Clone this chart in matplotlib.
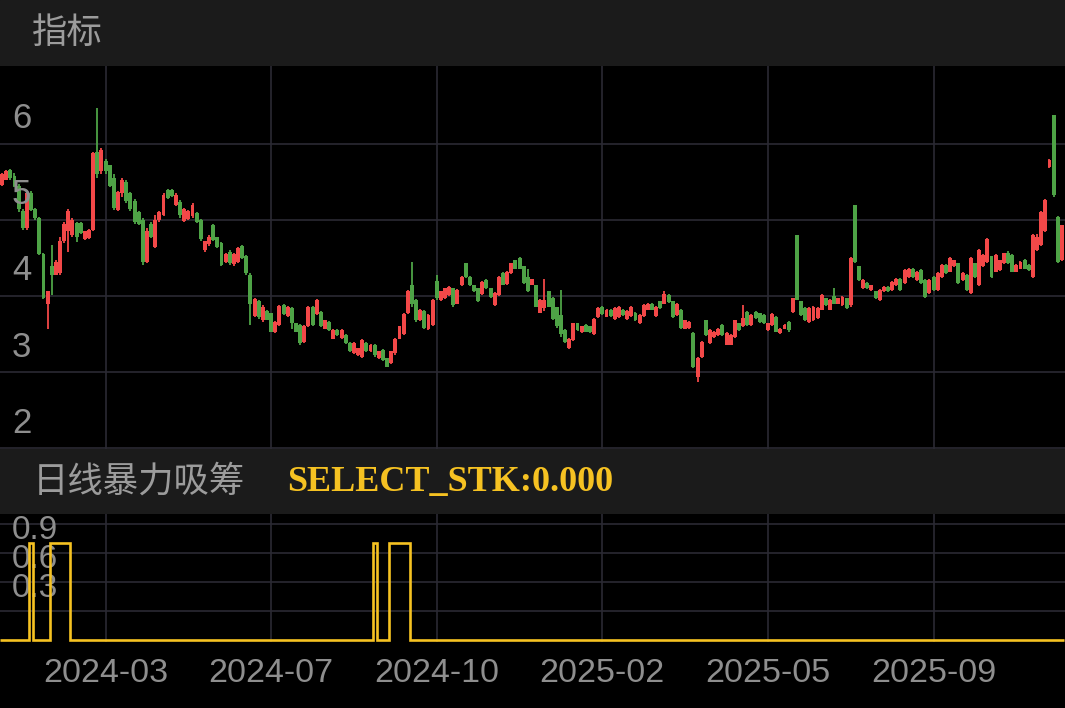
import matplotlib
matplotlib.use('Agg')
import matplotlib.pyplot as plt
from matplotlib.patches import Rectangle
import matplotlib.transforms as mtransforms
import numpy as np

# ---- data (prices in cents) ----
opens = [
    546, 553, 566, 558, 545, 512, 490, 536, 515, 502,
    455, 390, 440, 428, 430, 472, 485, 480, 496, 496,
    475, 476, 487, 590, 565, 578, 572, 555, 513, 535,
    550, 535, 525, 510, 500, 445, 495, 465, 500, 507,
    539, 540, 520, 524, 499, 501, 505, 509, 500, 460,
    468, 493, 477, 470, 445, 458, 442, 445, 466, 452,
    428, 374, 394, 368, 380, 377, 352, 362, 388, 374,
    384, 364, 362, 340, 360, 386, 376, 379, 357, 366,
    344, 355, 345, 349, 338, 325, 322, 320, 338, 327,
    336, 318, 329, 318, 312, 325, 344, 350, 377, 415,
    395, 368, 380, 356, 362, 420, 395, 397, 401, 410,
    390, 414, 443, 425, 414, 410, 402, 421, 410, 388,
    401, 430, 416, 430, 447, 450, 439, 425, 415, 414,
    378, 384, 406, 398, 385, 375, 355, 331, 342, 364,
    352, 362, 360, 350, 372, 386, 373, 382, 370, 372,
    382, 370, 374, 378, 364, 374, 382, 390, 374, 393,
    390, 401, 393, 375, 382, 357, 358, 351, 294, 320,
    368, 338, 346, 349, 362, 336, 336, 346, 364, 360,
    379, 362, 379, 377, 375, 355, 362, 373, 351, 357,
    366, 379, 480, 393, 384, 366, 368, 371, 382, 397,
    382, 400, 390, 388, 397, 388, 520, 439, 410, 417,
    408, 406, 395, 406, 412, 408, 414, 423, 417, 425,
    436, 421, 434, 421, 404, 425, 408, 425, 441, 432,
    439, 443, 421, 428, 404, 443, 414, 439, 445, 452,
    432, 434, 443, 456, 454, 432, 436, 448, 441, 425,
    460, 467, 485, 570, 638, 504, 447,
]
closes = [
    560, 564, 555, 545, 515, 490, 536, 513, 502, 455,
    398, 406, 428, 445, 472, 495, 512, 500, 478, 483,
    485, 487, 588, 560, 592, 565, 545, 516, 537, 552,
    525, 515, 498, 495, 445, 485, 478, 500, 510, 533,
    529, 532, 533, 506, 514, 512, 520, 498, 475, 472,
    478, 474, 465, 441, 455, 443, 455, 463, 450, 430,
    390, 396, 372, 386, 369, 353, 366, 387, 376, 386,
    364, 353, 338, 360, 386, 362, 395, 360, 368, 355,
    355, 349, 355, 338, 327, 338, 331, 342, 327, 336,
    322, 327, 316, 307, 327, 344, 360, 376, 406, 390,
    368, 382, 358, 375, 395, 397, 406, 410, 412, 388,
    408, 425, 425, 414, 406, 393, 419, 410, 399, 404,
    425, 415, 432, 443, 436, 436, 417, 406, 422, 386,
    395, 395, 386, 370, 360, 350, 340, 344, 364, 355,
    360, 353, 352, 370, 384, 376, 382, 374, 384, 386,
    375, 380, 386, 368, 375, 388, 390, 382, 386, 384,
    402, 392, 372, 390, 358, 368, 366, 307, 318, 340,
    349, 355, 353, 357, 349, 351, 349, 368, 355, 371,
    362, 375, 371, 366, 364, 364, 376, 353, 357, 362,
    355, 397, 395, 375, 368, 384, 386, 384, 401, 388,
    395, 390, 397, 399, 384, 450, 445, 421, 421, 410,
    414, 397, 408, 412, 406, 419, 423, 408, 434, 436,
    425, 432, 417, 399, 421, 408, 430, 441, 430, 450,
    447, 417, 430, 408, 450, 425, 461, 454, 475, 425,
    454, 447, 456, 443, 432, 441, 445, 436, 434, 480,
    478, 511, 526, 579, 533, 445, 493,
]
highs = [
    562, 566, 567, 562, 548, 515, 538, 538, 516, 504,
    457, 407, 467, 447, 478, 498, 515, 502, 498, 497,
    486, 488, 590, 647, 595, 580, 573, 560, 538, 555,
    552, 537, 527, 512, 502, 490, 498, 507, 512, 535,
    541, 541, 535, 526, 516, 513, 522, 510, 501, 473,
    480, 495, 478, 471, 457, 460, 456, 465, 467, 454,
    430, 397, 395, 388, 381, 378, 367, 388, 389, 387,
    385, 365, 363, 362, 387, 387, 396, 380, 369, 367,
    356, 356, 356, 350, 339, 339, 332, 343, 339, 337,
    337, 328, 330, 319, 328, 345, 361, 377, 408, 445,
    396, 383, 381, 376, 396, 428, 407, 411, 413, 411,
    409, 426, 444, 426, 415, 411, 420, 422, 411, 405,
    426, 431, 433, 444, 448, 451, 440, 436, 423, 415,
    396, 423, 407, 399, 386, 408, 356, 345, 365, 365,
    361, 363, 361, 371, 385, 387, 383, 383, 385, 387,
    383, 381, 387, 379, 376, 389, 391, 391, 387, 394,
    406, 402, 394, 391, 383, 369, 367, 352, 320, 341,
    369, 356, 354, 358, 363, 352, 350, 369, 365, 388,
    380, 376, 380, 378, 376, 365, 377, 374, 358, 363,
    367, 398, 480, 394, 385, 385, 387, 385, 402, 398,
    396, 410, 398, 400, 398, 451, 520, 440, 422, 418,
    415, 407, 409, 413, 413, 420, 424, 424, 435, 437,
    437, 433, 435, 422, 422, 426, 431, 442, 442, 451,
    448, 444, 431, 429, 451, 444, 462, 455, 476, 453,
    455, 448, 457, 459, 455, 442, 446, 449, 442, 481,
    482, 512, 527, 580, 638, 505, 494,
]
lows = [
    545, 552, 553, 543, 510, 487, 487, 512, 500, 454,
    396, 357, 401, 427, 428, 470, 458, 478, 471, 482,
    474, 475, 485, 555, 560, 560, 543, 513, 512, 530,
    523, 512, 495, 493, 441, 443, 476, 463, 498, 505,
    527, 530, 518, 503, 497, 500, 503, 496, 473, 458,
    466, 472, 463, 440, 443, 441, 440, 443, 449, 428,
    362, 372, 370, 366, 368, 352, 351, 360, 375, 373,
    357, 352, 336, 338, 359, 361, 375, 359, 356, 354,
    343, 348, 344, 337, 326, 324, 321, 319, 326, 326,
    320, 317, 315, 306, 311, 322, 343, 349, 376, 386,
    366, 367, 356, 355, 360, 395, 394, 396, 400, 386,
    389, 413, 424, 413, 405, 392, 401, 409, 398, 387,
    400, 414, 415, 429, 435, 435, 416, 405, 414, 385,
    377, 380, 385, 369, 358, 346, 338, 330, 341, 354,
    351, 352, 351, 349, 371, 375, 372, 373, 369, 371,
    374, 369, 373, 367, 363, 373, 381, 381, 373, 383,
    389, 391, 371, 374, 357, 356, 357, 305, 287, 319,
    347, 337, 345, 348, 348, 335, 335, 345, 354, 359,
    361, 361, 370, 365, 363, 354, 361, 352, 350, 356,
    353, 378, 395, 374, 367, 365, 367, 370, 381, 387,
    381, 389, 389, 387, 383, 386, 444, 420, 409, 409,
    407, 396, 394, 405, 405, 407, 413, 407, 416, 424,
    424, 420, 416, 398, 403, 407, 407, 424, 429, 431,
    438, 416, 420, 407, 403, 424, 413, 438, 444, 424,
    431, 433, 442, 442, 431, 431, 435, 435, 433, 424,
    459, 466, 484, 569, 530, 444, 446,
]
signal_on = [7, 12, 13, 14, 15, 16, 90, 94, 95, 96, 97, 98]
x_labels = ['2024-03', '2024-07', '2024-10', '2025-02', '2025-05', '2025-09']
x_label_idx = [25, 65, 105, 145, 185, 225]
price_ticks = [2, 3, 4, 5, 6]
signal_ticks = [0.3, 0.6, 0.9]
signal_grid = [0.3, 0.6, 0.9, 1.2]

# ---- style ----
RED = '#F24848'
GREEN = '#4EA346'
YEL = '#F6C222'
GRID = '#2B2A33'
HDR = '#1B1B1B'
LBL = '#8E8E8E'
HDR_TXT = '#9C9C9C'
NUM_FONT = 'Liberation Sans'
CJK_FONT = ['Noto Sans CJK SC', 'DejaVu Sans']

W, H = 1065, 708
fig = plt.figure(figsize=(W / 100, H / 100), dpi=100, facecolor='black')


def fy(px):
    return 1 - px / H


fig.add_artist(Rectangle((0, fy(66)), 1, 66 / H, transform=fig.transFigure,
                         color=HDR, zorder=0))
fig.add_artist(Rectangle((0, fy(514)), 1, (514 - 449) / H, transform=fig.transFigure,
                         color=HDR, zorder=0))

ax = fig.add_axes([0, fy(449), 1, (449 - 66) / H])
ax2 = fig.add_axes([0, fy(642), 1, (642 - 514) / H])
for a in (ax, ax2):
    a.set_facecolor('black')
    a.set_xticks([])
    a.set_yticks([])
    for s in a.spines.values():
        s.set_visible(False)
    a.set_xlim(-0.5, 256.75)

o = np.array(opens) / 100.0
c = np.array(closes) / 100.0
h = np.array(highs) / 100.0
l = np.array(lows) / 100.0
idx = np.arange(len(o))
cols = np.where(c >= o, RED, GREEN)

# grid
for v in price_ticks:
    ax.axhline(v, color=GRID, lw=1.2, zorder=0)
for t in x_label_idx:
    ax.axvline(t, color=GRID, lw=1.2, zorder=0)
    ax2.axvline(t, color=GRID, lw=1.2, zorder=0)
for v in signal_grid:
    ax2.axhline(v, color=GRID, lw=1.2, zorder=0)

# candles
ax.vlines(idx, l, h, colors=cols, lw=1.3, zorder=2)
ax.bar(idx, np.abs(c - o), bottom=np.minimum(o, c), width=0.95, color=cols,
       linewidth=0, zorder=3)
ax.set_ylim(1.987, 7.026)

# signal
sig = np.zeros(len(o))
sig[signal_on] = 1.0
ax2.stairs(sig, np.arange(len(o) + 1) - 0.5, baseline=None, color=YEL, lw=1.9,
           zorder=4, clip_on=False)
ax2.set_ylim(-0.0207, 1.303)

# y labels
tr = mtransforms.offset_copy(
    mtransforms.blended_transform_factory(ax.transAxes, ax.transData),
    fig=fig, y=25, units='dots')
for v in price_ticks:
    ax.text(12 / W, v, f'{v}', transform=tr, ha='left', va='center',
            fontsize=25, color=LBL, family=NUM_FONT)
tr2 = mtransforms.offset_copy(
    mtransforms.blended_transform_factory(ax2.transAxes, ax2.transData),
    fig=fig, y=22, units='dots')
for v in signal_ticks:
    ax2.text(12 / W, v, f'{v}', transform=tr2, ha='left', va='center',
             fontsize=24, color=LBL, family=NUM_FONT)

# x labels
trx = mtransforms.blended_transform_factory(ax2.transData, fig.transFigure)
for t, lab in zip(x_label_idx, x_labels):
    ax2.text(t, fy(673), lab, transform=trx, ha='center', va='center',
             fontsize=24.5, color=LBL, family=NUM_FONT)

# headers
fig.text(32 / W, fy(33), '指标', ha='left', va='center', fontsize=25.5,
         color=HDR_TXT, family=CJK_FONT)
fig.text(33 / W, fy(482), '日线暴力吸筹', ha='left', va='center', fontsize=25.5,
         color=HDR_TXT, family=CJK_FONT)
fig.text(287 / W, fy(482), 'SELECT_STK:0.000', ha='left', va='center',
         fontsize=26, color=YEL, family='Liberation Serif', weight='bold')

fig.savefig('out.png', dpi=100, facecolor='black')
